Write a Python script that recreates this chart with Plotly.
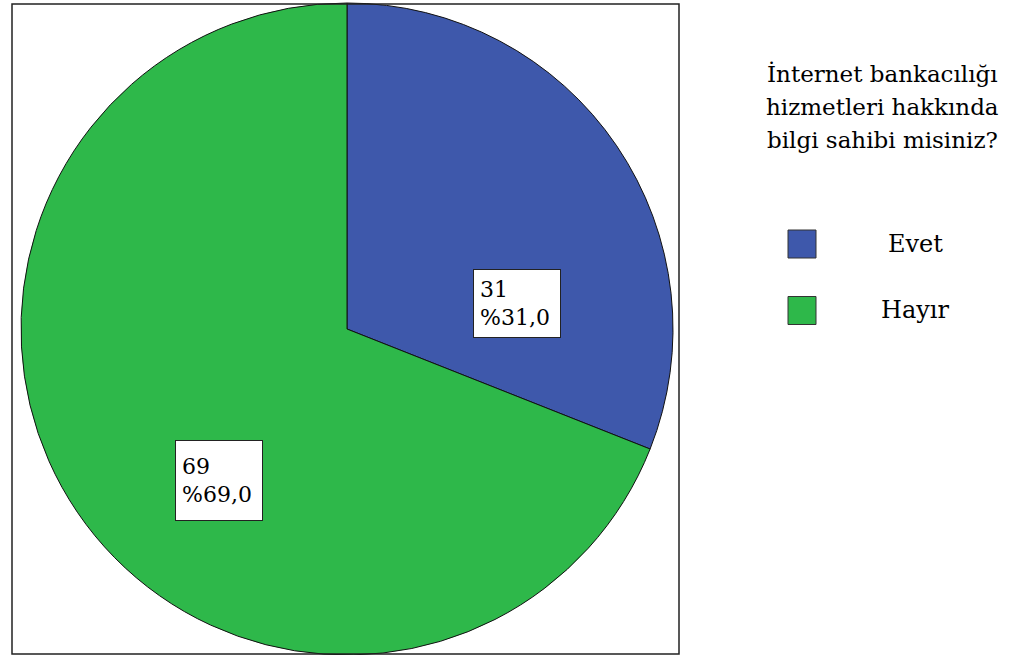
import plotly.graph_objects as go

# Survey answers and counts
categories = ["Evet", "Hayır"]
counts = [31, 69]
colors = ["#3E58AB", "#2EB84A"]
legend_title_lines = ["İnternet bankacılığı", "hizmetleri hakkında", "bilgi sahibi misiniz?"]

W, H = 1012, 655
SERIF = "DejaVu Serif"


def px_x(x):
    return x / W


def px_y(y):
    return 1 - y / H


total = sum(counts)
labels_text = [
    f"{c}<br>%{100 * c / total:.1f}".replace(".", ",") for c in counts
]

# pie centre and radius in pixels
cx, cy, r = 347, 329, 326

fig = go.Figure(
    go.Pie(
        labels=categories,
        values=counts,
        sort=False,
        direction="clockwise",
        rotation=0,
        marker=dict(colors=colors, line=dict(color="#111111", width=1)),
        textinfo="none",
        hoverinfo="label+value+percent",
        showlegend=False,
        domain=dict(x=[px_x(cx - r), px_x(cx + r)], y=[px_y(cy + r), px_y(cy - r)]),
    )
)

shapes = [
    # frame around the pie
    dict(type="rect", xref="paper", yref="paper",
         x0=px_x(12), x1=px_x(679), y0=px_y(654), y1=px_y(4),
         line=dict(color="#222222", width=1.5), fillcolor="rgba(0,0,0,0)",
         layer="above"),
]

annotations = []

# value boxes on the slices: (centre x, centre y, inner height) in pixels
box_geom = [(517, 303.5, 55), (219, 480.5, 67)]
for txt, (bx, by, bh) in zip(labels_text, box_geom):
    annotations.append(dict(
        x=px_x(bx), y=px_y(by), xref="paper", yref="paper",
        text=txt, showarrow=False, align="left", valign="middle",
        font=dict(family=SERIF, size=22, color="black"),
        bgcolor="white", bordercolor="#222222", borderwidth=1,
        borderpad=6, width=74, height=bh,
        xanchor="center", yanchor="middle",
    ))

# legend title
for i, line in enumerate(legend_title_lines):
    annotations.append(dict(
        x=px_x(882), y=px_y(74 + 33 * i), xref="paper", yref="paper",
        text=line, showarrow=False,
        font=dict(family=SERIF, size=23, color="black"),
        xanchor="center", yanchor="middle",
    ))

# legend entries
for i, (name, col) in enumerate(zip(categories, colors)):
    yc = 244 + 66.5 * i
    shapes.append(dict(
        type="rect", xref="paper", yref="paper",
        x0=px_x(788), x1=px_x(816), y0=px_y(yc + 14), y1=px_y(yc - 14),
        fillcolor=col, line=dict(color="#333333", width=1),
    ))
    annotations.append(dict(
        x=px_x(915), y=px_y(yc), xref="paper", yref="paper",
        text=name, showarrow=False,
        font=dict(family=SERIF, size=24, color="black"),
        xanchor="center", yanchor="middle",
    ))

fig.update_layout(
    width=W, height=H,
    margin=dict(l=0, r=0, t=0, b=0),
    paper_bgcolor="white", plot_bgcolor="white",
    font=dict(family=SERIF),
    shapes=shapes, annotations=annotations,
)

fig.write_html("out.html")
